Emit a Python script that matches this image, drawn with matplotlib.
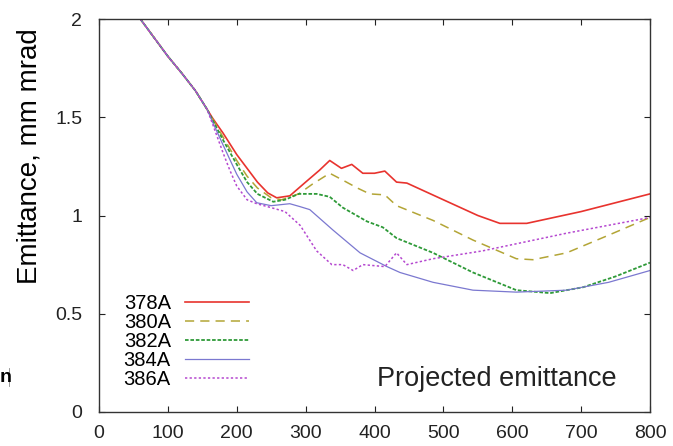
import matplotlib
matplotlib.use("Agg")
import matplotlib.pyplot as plt
import numpy as np

plt.rcParams['font.family'] = ['Liberation Sans', 'DejaVu Sans']

# common start of all runs (before the curves separate)
x_head = [60, 80, 100, 120, 140, 157]
y_head = [2.0, 1.905, 1.81, 1.725, 1.635, 1.54]

x_378 = [165, 180, 200, 215, 230, 245, 258, 277, 300, 320, 335, 352, 367, 383, 400, 415, 432, 447, 500, 550, 582, 621, 700, 800]
y_378 = [1.495, 1.42, 1.31, 1.24, 1.17, 1.115, 1.09, 1.10, 1.17, 1.23, 1.28, 1.24, 1.26, 1.215, 1.215, 1.226, 1.17, 1.165, 1.08, 1.0, 0.96, 0.96, 1.02, 1.11]

x_380 = [165, 180, 200, 215, 230, 250, 265, 290, 310, 335, 354, 375, 393, 415, 432, 485, 543, 606, 630, 679, 740, 800]
y_380 = [1.49, 1.40, 1.28, 1.20, 1.14, 1.09, 1.08, 1.11, 1.16, 1.215, 1.18, 1.14, 1.11, 1.105, 1.05, 0.975, 0.875, 0.78, 0.775, 0.81, 0.9, 0.99]

x_382 = [165, 180, 200, 215, 230, 253, 270, 290, 316, 335, 354, 389, 412, 432, 485, 543, 606, 655, 703, 750, 800]
y_382 = [1.485, 1.385, 1.26, 1.17, 1.11, 1.07, 1.08, 1.11, 1.11, 1.095, 1.04, 0.97, 0.94, 0.885, 0.81, 0.71, 0.62, 0.605, 0.635, 0.69, 0.76]

x_384 = [165, 180, 200, 215, 229, 250, 277, 292, 306, 340, 379, 418, 437, 485, 543, 606, 679, 740, 800]
y_384 = [1.475, 1.36, 1.21, 1.12, 1.065, 1.05, 1.06, 1.045, 1.03, 0.925, 0.81, 0.74, 0.71, 0.66, 0.62, 0.61, 0.62, 0.66, 0.72]

x_386 = [165, 180, 190, 200, 215, 229, 250, 270, 292, 316, 338, 354, 369, 383, 415, 432, 447, 485, 557, 679, 800]
y_386 = [1.465, 1.32, 1.23, 1.15, 1.08, 1.06, 1.04, 1.02, 0.95, 0.82, 0.75, 0.75, 0.72, 0.75, 0.74, 0.81, 0.75, 0.78, 0.82, 0.91, 0.99]

labels = ["378A", "380A", "382A", "384A", "386A"]
colors = ["#e8332e", "#b3a536", "#2e9a38", "#7b78d0", "#b548d0"]
styles = ["-", (0, (6, 4)), (0, (2, 1)), "-", (0, (1.5, 1.5))]
widths = [1.2, 1.1, 1.3, 0.9, 1.1]
series = [(x_378, y_378), (x_380, y_380), (x_382, y_382), (x_384, y_384), (x_386, y_386)]

fig = plt.figure(figsize=(6.73, 4.46), dpi=100)
ax = fig.add_axes([99 / 673, 34 / 446, 551 / 673, 393 / 446])

for (xs, ys), lab, c, ls, lw in zip(series, labels, colors, styles, widths):
    ax.plot(x_head + xs, y_head + ys, color=c, linestyle=ls, linewidth=lw, label=lab)

ax.set_xlim(0, 800)
ax.set_ylim(0, 2)
ax.set_xticks(np.arange(0, 801, 100))
ax.set_yticks([0, 0.5, 1, 1.5, 2])
ax.set_yticklabels(["0", "0.5", "1", "1.5", "2"])
ax.tick_params(direction="in", top=True, right=True, length=4, width=0.8,
               labelsize=14, colors="#222222")
ax.tick_params(axis="x", pad=9)
ax.tick_params(axis="y", pad=12)
for s in ax.spines.values():
    s.set_linewidth(1.0)
    s.set_color("#333333")

ax.set_ylabel("Emittance, mm mrad", fontsize=20)
ax.yaxis.set_label_coords(-0.103, 0.65)
ax.text(0.505, 0.085, "Projected emittance", transform=ax.transAxes, fontsize=19.5,
        ha="left", va="center", color="#222222")

leg = ax.legend(loc="upper left", bbox_to_anchor=(0.03, 0.32), frameon=False,
                markerfirst=False, handlelength=3.2, handletextpad=0.7,
                labelspacing=0.0, fontsize=14.5, borderaxespad=0)

fig.text(0.0, 1 - 377 / 446, "n", fontsize=14, fontweight="bold", va="center", ha="left")
fig.add_artist(plt.Line2D([9 / 673, 9 / 673], [1 - 368 / 446, 1 - 386 / 446],
                          color="#888888", linewidth=0.6))

fig.savefig("out.png", dpi=100)
